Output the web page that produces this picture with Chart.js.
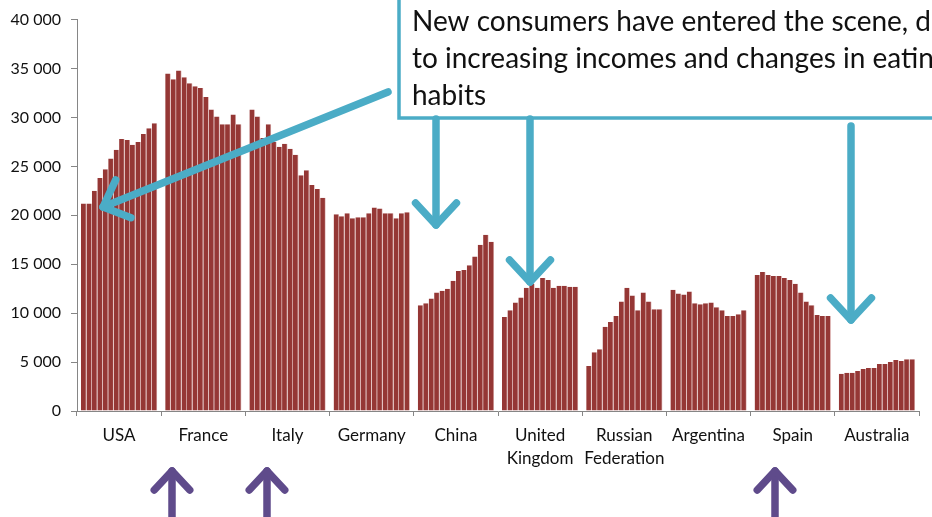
<!DOCTYPE html>
<html>
<head>
<meta charset="utf-8">
<script src="https://cdn.jsdelivr.net/npm/chart.js@4.4.1/dist/chart.umd.min.js"></script>
<style>
  html, body { margin: 0; padding: 0; background: #fff; }
  #wrap { width: 932px; height: 517px; position: relative; overflow: hidden; }
</style>
</head>
<body>
<div id="wrap"><canvas id="chart" width="932" height="517"></canvas></div>
<script>
// categories (countries) and one value per year, 14 years per country
const countries = ['USA', 'France', 'Italy', 'Germany', 'China', ['United', 'Kingdom'], ['Russian', 'Federation'], 'Argentina', 'Spain', 'Australia'];

const usa       = [21200, 21200, 22500, 23800, 24700, 25800, 26700, 27800, 27700, 27200, 27500, 28300, 28900, 29400];
const france    = [34500, 33900, 34800, 34100, 33500, 33200, 33000, 32100, 30800, 30100, 29300, 29300, 30300, 29300];
const italy     = [30800, 30100, 27900, 29300, 27500, 27000, 27300, 26800, 26200, 24100, 24600, 23100, 22700, 21800];
const germany   = [20100, 19900, 20200, 19700, 19800, 19800, 20200, 20800, 20700, 20200, 20200, 19700, 20200, 20300];
const china     = [10800, 11000, 11500, 12100, 12300, 12500, 13300, 14300, 14400, 14900, 15800, 17000, 18000, 17300];
const uk        = [9600, 10300, 11100, 11600, 12600, 13000, 12600, 13600, 13400, 12600, 12800, 12800, 12700, 12700];
const russia    = [4600, 6000, 6300, 8600, 9100, 9700, 11200, 12600, 11800, 10300, 12100, 11200, 10400, 10400];
const argentina = [12400, 12000, 11900, 12200, 11000, 10900, 11000, 11100, 10600, 10300, 9700, 9700, 9900, 10300];
const spain     = [13900, 14200, 13900, 13800, 13800, 13600, 13400, 13000, 12100, 11200, 10800, 9800, 9700, 9700];
const australia = [3800, 3900, 3900, 4100, 4300, 4400, 4400, 4800, 4800, 5000, 5200, 5100, 5300, 5300];

const yTicks = [0, 5000, 10000, 15000, 20000, 25000, 30000, 35000, 40000];

const noteLines = ['New consumers have entered the scene, due', 'to increasing incomes and changes in eating', 'habits'];

const rows = [usa, france, italy, germany, china, uk, russia, argentina, spain, australia];
const datasets = [];
for (let i = 0; i < usa.length; i++) {
  datasets.push({
    label: 'year ' + (i + 1),
    data: rows.map(r => r[i]),
    backgroundColor: '#953735',
    borderColor: '#cf9392',
    borderWidth: { top: 0, left: 0, bottom: 0, right: 0.7 },
    borderSkipped: false,
    barPercentage: 1,
    categoryPercentage: 0.905
  });
}

function arrow(ctx, x1, y1, x2, y2, head, color, width) {
  const a = Math.atan2(y2 - y1, x2 - x1);
  ctx.save();
  ctx.strokeStyle = color;
  ctx.lineWidth = width;
  ctx.lineCap = 'round';
  ctx.lineJoin = 'round';
  ctx.beginPath();
  ctx.moveTo(x1, y1);
  ctx.lineTo(x2, y2);
  ctx.stroke();
  ctx.beginPath();
  ctx.moveTo(x2 - head * Math.cos(a - 0.75), y2 - head * Math.sin(a - 0.75));
  ctx.lineTo(x2, y2);
  ctx.lineTo(x2 - head * Math.cos(a + 0.75), y2 - head * Math.sin(a + 0.75));
  ctx.stroke();
  ctx.restore();
}

const notes = {
  id: 'notes',
  afterDraw(chart) {
    const ctx = chart.ctx;
    const teal = '#4bacc6';
    const purple = '#5f4b8b';
    // callout box
    ctx.save();
    ctx.fillStyle = '#fff';
    ctx.fillRect(399, -10, 560, 128);
    ctx.strokeStyle = teal;
    ctx.lineWidth = 3.5;
    ctx.strokeRect(399, -10, 560, 128);
    ctx.fillStyle = '#111';
    ctx.font = '28px Lato, "Open Sans", sans-serif';
    ctx.textBaseline = 'alphabetic';
    noteLines.forEach((t, i) => ctx.fillText(t, 412, 31 + i * 37));
    ctx.restore();
    // teal arrows
    arrow(ctx, 388, 92, 103, 207, 30, teal, 7.5);
    arrow(ctx, 436, 119, 436, 225, 30, teal, 7.5);
    arrow(ctx, 530, 119, 530, 282, 30, teal, 7.5);
    arrow(ctx, 851, 126, 851, 320, 30, teal, 7.5);
    // purple arrows under the axis
    [172, 267, 775].forEach(x => arrow(ctx, x, 530, x, 471, 26, purple, 7.5));
  }
};

new Chart(document.getElementById('chart'), {
  type: 'bar',
  data: { labels: countries, datasets: datasets },
  plugins: [notes],
  options: {
    responsive: false,
    animation: false,
    devicePixelRatio: 1,
    layout: { padding: { top: 13, right: 13, left: 0, bottom: 0 } },
    plugins: { legend: { display: false }, tooltip: { enabled: false } },
    scales: {
      x: {
        grid: { display: true, drawOnChartArea: false, color: '#868686', tickLength: 5, offset: true },
        border: { color: '#868686', width: 1 },
        ticks: {
          color: '#111',
          font: { family: 'Lato, "Open Sans", sans-serif', size: 17, lineHeight: 1.35 },
          padding: 8,
          maxRotation: 0,
          autoSkip: false
        },
        afterFit(scale) { scale.height = 106; }
      },
      y: {
        min: 0,
        max: 40000,
        afterBuildTicks(scale) { scale.ticks = yTicks.map(v => ({ value: v })); },
        grid: { display: true, drawOnChartArea: false, color: '#868686', tickLength: 6 },
        border: { color: '#868686', width: 1 },
        ticks: {
          color: '#111',
          font: { family: 'Lato, "Open Sans", sans-serif', size: 16 },
          padding: 10,
          callback: v => String(v).replace(/\B(?=(\d{3})+(?!\d))/g, ' ')
        },
        afterFit(scale) { scale.width = 77; }
      }
    }
  }
});
</script>
</body>
</html>
